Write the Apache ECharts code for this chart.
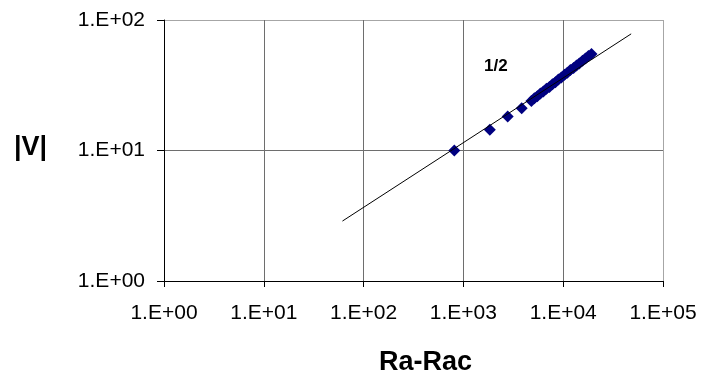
<!DOCTYPE html>
<html>
<head>
<meta charset="utf-8">
<script src="https://cdn.jsdelivr.net/npm/echarts@6/dist/echarts.min.js"></script>
<style>
  html, body { margin: 0; padding: 0; background: #fff; }
  #chart { width: 703px; height: 378px; }
</style>
</head>
<body>
<div id="chart"></div>
<script>
// Measured velocity amplitude |V| against Ra - Rac (log-log)
const raExcess = [811, 1840, 2780, 3840,
  4800, 5140, 5500, 5910, 6330, 6790, 7280, 7800, 8360, 8950,
  9590, 10300, 11000, 11800, 12700, 13600, 14500, 15600, 16700, 17900, 19200];
const velocity = [10.0, 14.4, 18.2, 21.1,
  24.0, 25.1, 26.0, 27.3, 28.3, 29.7, 30.7, 32.2, 33.4, 35.0,
  36.3, 38.0, 39.4, 41.3, 42.9, 44.9, 46.5, 48.7, 50.6, 52.9, 55.0];

// Power-law fit (slope 1/2) drawn between its two end points
const fitRa = [61.4, 47970];
const fitV = [2.88, 78.3];

// Axis decades
const xTicks = ['1.E+00', '1.E+01', '1.E+02', '1.E+03', '1.E+04', '1.E+05'];
const yTicks = ['1.E+00', '1.E+01', '1.E+02'];

const font = '"Liberation Sans", Arial, sans-serif';
const expLabel = (ticks) => (v) => ticks[Math.round(Math.log10(v))] || '';
const gridGray = '#6e6e6e';
const frameGray = '#a6a6a6';

const chart = echarts.init(document.getElementById('chart'), null, { renderer: 'canvas' });

chart.setOption({
  animation: false,
  backgroundColor: '#ffffff',
  grid: { left: 164, top: 20, right: 40, bottom: 97, containLabel: false },
  xAxis: {
    type: 'log',
    logBase: 10,
    min: 1,
    max: 100000,
    axisLine: { show: true, lineStyle: { color: '#000', width: 1 } },
    axisTick: { show: true, length: 6, lineStyle: { color: '#000' } },
    axisLabel: { margin: 22, color: '#000', fontSize: 21, fontFamily: font, formatter: expLabel(xTicks) },
    // last decade line doubles as the right frame edge
    splitLine: { show: true, lineStyle: { color: [gridGray, gridGray, gridGray, gridGray, gridGray, frameGray], width: 1 } },
    minorTick: { show: false },
    minorSplitLine: { show: false }
  },
  yAxis: {
    type: 'log',
    logBase: 10,
    min: 1,
    max: 100,
    axisLine: { show: true, lineStyle: { color: '#000', width: 1 } },
    axisTick: { show: true, length: 7, lineStyle: { color: '#000' } },
    axisLabel: { margin: 19, color: '#000', fontSize: 21, fontFamily: font, formatter: expLabel(yTicks) },
    // top decade line doubles as the upper frame edge
    splitLine: { show: true, lineStyle: { color: [gridGray, gridGray, frameGray], width: 1 } }
  },
  series: [
    {
      type: 'scatter',
      symbol: 'diamond',
      symbolSize: 12,
      itemStyle: { color: '#000080', opacity: 1 },
      data: raExcess.map((x, i) => [x, velocity[i]]),
      z: 2
    },
    {
      type: 'line',
      showSymbol: false,
      symbol: 'none',
      lineStyle: { color: '#000', width: 1 },
      data: fitRa.map((x, i) => [x, fitV[i]]),
      z: 3
    }
  ],
  graphic: [
    {
      type: 'text',
      left: 14, top: 134,
      style: { text: '|V|', font: 'bold 27px ' + font, fill: '#000' }
    },
    {
      type: 'text',
      left: 379, top: 349,
      style: { text: 'Ra-Rac', font: 'bold 27px ' + font, fill: '#000' }
    },
    {
      type: 'text',
      left: 484, top: 58,
      style: { text: '1/2', font: 'bold 17px ' + font, fill: '#000' }
    }
  ]
});
</script>
</body>
</html>
